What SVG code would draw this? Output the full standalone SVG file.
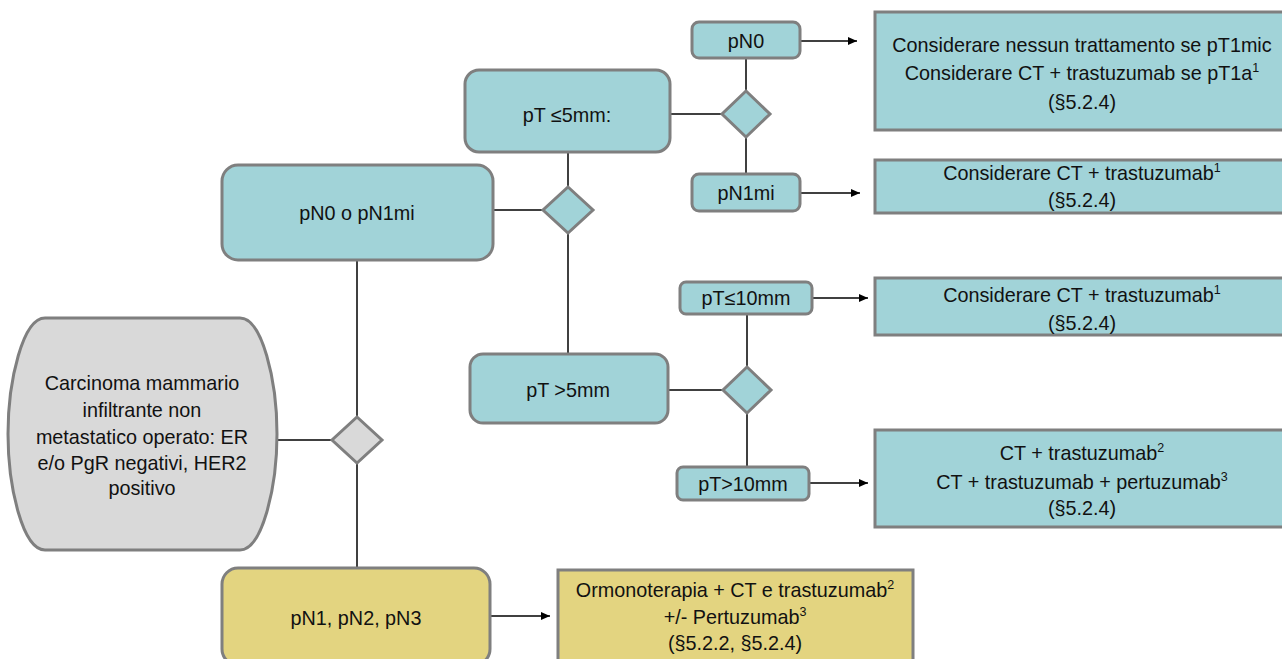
<svg xmlns="http://www.w3.org/2000/svg" width="1282" height="659" viewBox="0 0 1282 659">
<style>
text{font-family:"Liberation Sans",Arial,sans-serif;font-size:19.8px;fill:#111;text-anchor:middle}
.teal{fill:#a1d3d8;stroke:#7f7f7f;stroke-width:3}
.gray{fill:#d9d9d9;stroke:#7f7f7f;stroke-width:3}
.yel{fill:#e3d480;stroke:#7f7f7f;stroke-width:3}
.c{stroke:#000;stroke-width:1.5;fill:none}
.a{marker-end:url(#ah)}
.sup{font-size:12.5px}
</style>
<defs>
<marker id="ah" markerWidth="9" markerHeight="8" refX="9" refY="4" orient="auto" markerUnits="userSpaceOnUse">
<path d="M0,0 L9,4 L0,8 Z" fill="#000"/>
</marker>
</defs>
<rect width="1282" height="659" fill="#fff"/>
<g id="connectors">
<line class="c" x1="277" y1="440" x2="332" y2="440"/>
<line class="c" x1="357" y1="417" x2="357" y2="260"/>
<line class="c" x1="357" y1="463" x2="357" y2="568"/>
<line class="c" x1="493" y1="210" x2="543" y2="210"/>
<line class="c" x1="568" y1="187" x2="568" y2="152"/>
<line class="c" x1="568" y1="233" x2="568" y2="354"/>
<line class="c" x1="670" y1="114" x2="722" y2="114"/>
<line class="c" x1="746" y1="91" x2="746" y2="58"/>
<line class="c" x1="746" y1="137" x2="746" y2="174"/>
<line class="c a" x1="800" y1="41" x2="857" y2="41"/>
<line class="c a" x1="800" y1="193" x2="860" y2="193"/>
<line class="c" x1="668" y1="390" x2="722" y2="390"/>
<line class="c" x1="747" y1="367" x2="747" y2="314"/>
<line class="c" x1="747" y1="413" x2="747" y2="467"/>
<line class="c a" x1="812" y1="298" x2="868" y2="298"/>
<line class="c a" x1="809" y1="483" x2="868" y2="483"/>
<line class="c a" x1="490" y1="616" x2="550" y2="616"/>
</g>
<g id="start">
<path class="gray" d="M45,318 H240 C262,318 277,380 277,434 C277,488 262,550 240,550 H45 C23,550 8,488 8,434 C8,380 23,318 45,318 Z"/>
<text x="142" y="390">Carcinoma mammario</text>
<text x="142" y="417">infiltrante non</text>
<text x="142" y="444">metastatico operato: ER</text>
<text x="142" y="470">e/o PgR negativi, HER2</text>
<text x="142" y="495">positivo</text>
</g>
<g id="d1"><path class="gray" d="M357,417 L382,440 L357,463 L332,440 Z"/></g>
<g id="n-pn0pn1mi">
<rect class="teal" x="222" y="165" width="271" height="95" rx="16"/>
<text x="357" y="220">pN0 o pN1mi</text>
</g>
<g id="d2"><path class="teal" d="M568,187 L593,210 L568,233 L543,210 Z"/></g>
<g id="n-pt5">
<rect class="teal" x="465" y="70" width="205" height="82" rx="14"/>
<text x="567" y="122">pT ≤5mm:</text>
</g>
<g id="d3"><path class="teal" d="M746,91 L770,114 L746,137 L722,114 Z"/></g>
<g id="n-pn0">
<rect class="teal" x="692" y="22" width="108" height="36" rx="7"/>
<text x="746" y="48">pN0</text>
</g>
<g id="n-pn1mi">
<rect class="teal" x="692" y="174" width="108" height="37" rx="7"/>
<text x="746" y="200">pN1mi</text>
</g>
<g id="r1">
<rect class="teal" x="875" y="12" width="415" height="118"/>
<text x="1082" y="52">Considerare nessun trattamento se pT1mic</text>
<text x="1082" y="80">Considerare CT + trastuzumab se pT1a<tspan class="sup" dy="-8">1</tspan></text>
<text x="1082" y="109">(§5.2.4)</text>
</g>
<g id="r2">
<rect class="teal" x="875" y="160" width="415" height="53"/>
<text x="1082" y="180">Considerare CT + trastuzumab<tspan class="sup" dy="-8">1</tspan></text>
<text x="1082" y="207">(§5.2.4)</text>
</g>
<g id="n-pt5b">
<rect class="teal" x="470" y="354" width="198" height="69" rx="13"/>
<text x="568" y="397">pT &gt;5mm</text>
</g>
<g id="d4"><path class="teal" d="M747,367 L771,390 L747,413 L723,390 Z"/></g>
<g id="n-pt10a">
<rect class="teal" x="680" y="282" width="132" height="32" rx="6"/>
<text x="746" y="305">pT≤10mm</text>
</g>
<g id="n-pt10b">
<rect class="teal" x="677" y="467" width="132" height="33" rx="6"/>
<text x="743" y="491">pT&gt;10mm</text>
</g>
<g id="r3">
<rect class="teal" x="875" y="278" width="415" height="57"/>
<text x="1082" y="302">Considerare CT + trastuzumab<tspan class="sup" dy="-8">1</tspan></text>
<text x="1082" y="330">(§5.2.4)</text>
</g>
<g id="r4">
<rect class="teal" x="875" y="430" width="415" height="97"/>
<text x="1082" y="460">CT + trastuzumab<tspan class="sup" dy="-8">2</tspan></text>
<text x="1082" y="489">CT + trastuzumab + pertuzumab<tspan class="sup" dy="-8">3</tspan></text>
<text x="1082" y="515">(§5.2.4)</text>
</g>
<g id="n-pn123">
<rect class="yel" x="222" y="568" width="268" height="97" rx="16"/>
<text x="356" y="625">pN1, pN2, pN3</text>
</g>
<g id="r5">
<rect class="yel" x="558" y="570" width="355" height="97"/>
<text x="735" y="597">Ormonoterapia + CT e trastuzumab<tspan class="sup" dy="-8">2</tspan></text>
<text x="735" y="624">+/- Pertuzumab<tspan class="sup" dy="-8">3</tspan></text>
<text x="735" y="650">(§5.2.2, §5.2.4)</text>
</g>
</svg>
